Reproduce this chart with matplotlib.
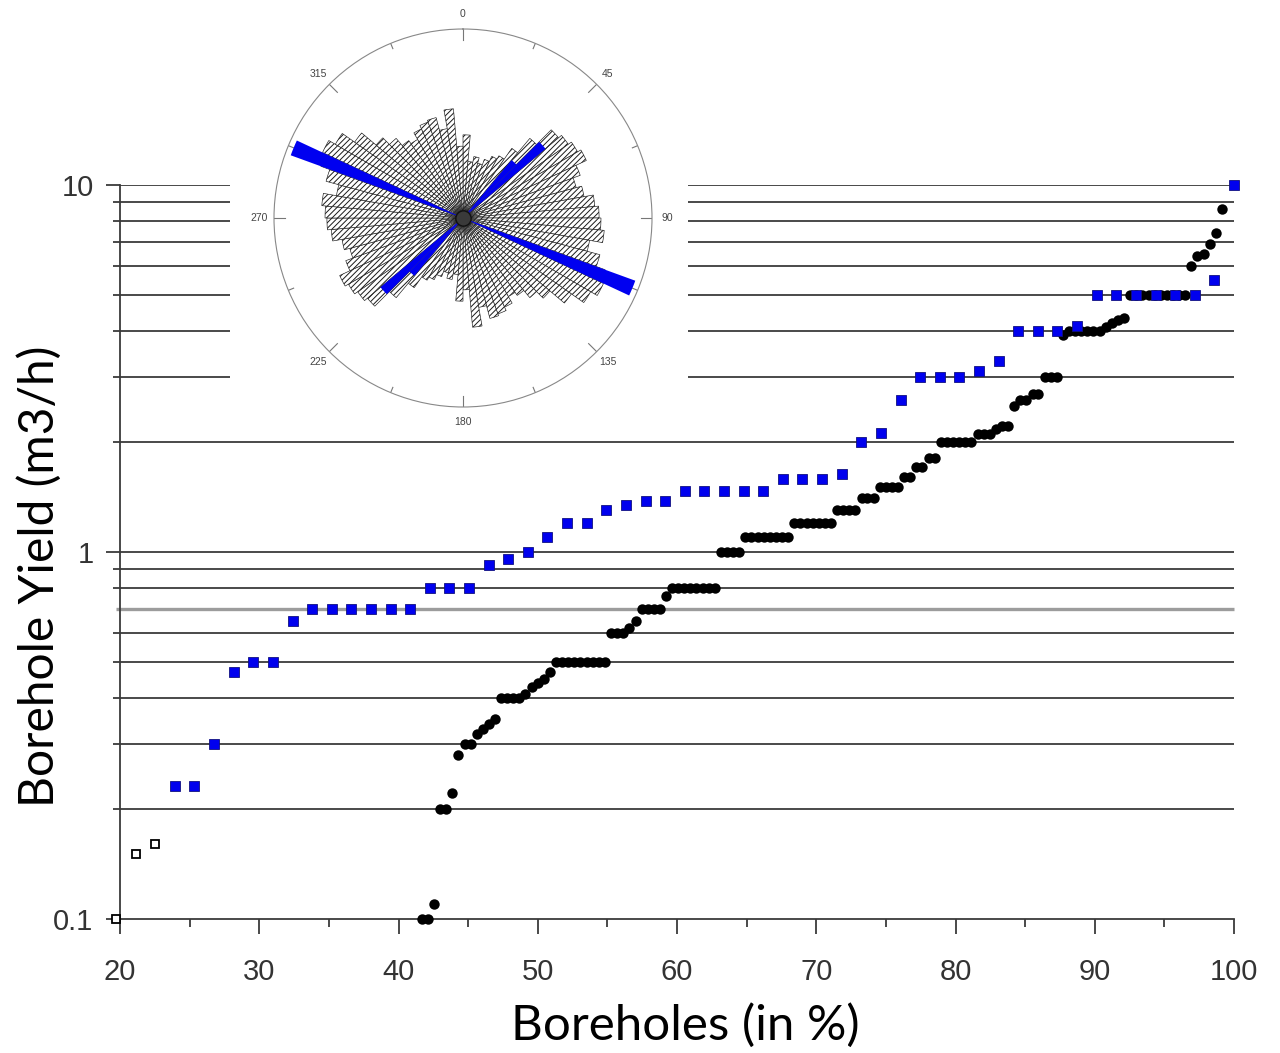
import numpy as np
import matplotlib
matplotlib.use('Agg')
import matplotlib.pyplot as plt
from matplotlib import ticker

# ---- data ----
# black circles: borehole percentile vs yield
black_x = [41.67, 42.11, 42.54, 42.98, 43.42, 43.86, 44.30, 44.74, 45.18, 45.61,
           46.05, 46.49, 46.93, 47.37, 47.81, 48.25, 48.68, 49.12, 49.56, 50.00,
           50.44, 50.88, 51.32, 51.75, 52.19, 52.63, 53.07, 53.51, 53.95, 54.39,
           54.82, 55.26, 55.70, 56.14, 56.58, 57.02, 57.46, 57.89, 58.33, 58.77,
           59.21, 59.65, 60.09, 60.53, 60.96, 61.40, 61.84, 62.28, 62.72, 63.16,
           63.60, 64.04, 64.47, 64.91, 65.35, 65.79, 66.23, 66.67, 67.11, 67.54,
           67.98, 68.42, 68.86, 69.30, 69.74, 70.18, 70.61, 71.05, 71.49, 71.93,
           72.37, 72.81, 73.25, 73.68, 74.12, 74.56, 75.00, 75.44, 75.88, 76.32,
           76.75, 77.19, 77.63, 78.07, 78.51, 78.95, 79.39, 79.82, 80.26, 80.70,
           81.14, 81.58, 82.02, 82.46, 82.89, 83.33, 83.77, 84.21, 84.65, 85.09,
           85.53, 85.96, 86.40, 86.84, 87.28, 87.72, 88.16, 88.60, 89.04, 89.47,
           89.91, 90.35, 90.79, 91.23, 91.67, 92.11, 92.54, 92.98, 93.42, 93.86,
           94.30, 94.74, 95.18, 95.61, 96.05, 96.49, 96.93, 97.37, 97.81, 98.25,
           98.68, 99.12]
black_y = [0.10, 0.10, 0.11, 0.20, 0.20, 0.22, 0.28, 0.30, 0.30, 0.32,
           0.33, 0.34, 0.35, 0.40, 0.40, 0.40, 0.40, 0.41, 0.43, 0.44,
           0.45, 0.47, 0.50, 0.50, 0.50, 0.50, 0.50, 0.50, 0.50, 0.50,
           0.50, 0.60, 0.60, 0.60, 0.62, 0.65, 0.70, 0.70, 0.70, 0.70,
           0.76, 0.80, 0.80, 0.80, 0.80, 0.80, 0.80, 0.80, 0.80, 1.00,
           1.00, 1.00, 1.00, 1.10, 1.10, 1.10, 1.10, 1.10, 1.10, 1.10,
           1.10, 1.20, 1.20, 1.20, 1.20, 1.20, 1.20, 1.20, 1.30, 1.30,
           1.30, 1.30, 1.40, 1.40, 1.40, 1.50, 1.50, 1.50, 1.50, 1.60,
           1.60, 1.70, 1.70, 1.80, 1.80, 2.00, 2.00, 2.00, 2.00, 2.00,
           2.00, 2.10, 2.10, 2.10, 2.16, 2.20, 2.20, 2.50, 2.60, 2.60,
           2.70, 2.70, 3.00, 3.00, 3.00, 3.90, 4.00, 4.00, 4.00, 4.00,
           4.00, 4.00, 4.10, 4.20, 4.30, 4.35, 5.00, 5.00, 5.00, 5.00,
           5.00, 5.00, 5.00, 5.00, 5.00, 5.00, 6.00, 6.40, 6.50, 6.90,
           7.40, 8.60]

# blue squares
blue_x = [23.94, 25.35, 26.76, 28.17, 29.58, 30.99, 32.39, 33.80, 35.21, 36.62,
          38.03, 39.44, 40.85, 42.25, 43.66, 45.07, 46.48, 47.89, 49.30, 50.70,
          52.11, 53.52, 54.93, 56.34, 57.75, 59.15, 60.56, 61.97, 63.38, 64.79,
          66.20, 67.61, 69.01, 70.42, 71.83, 73.24, 74.65, 76.06, 77.46, 78.87,
          80.28, 81.69, 83.10, 84.51, 85.92, 87.32, 88.73, 90.14, 91.55, 92.96,
          94.37, 95.77, 97.18, 98.59, 100.00]
blue_y = [0.23, 0.23, 0.30, 0.47, 0.50, 0.50, 0.65, 0.70, 0.70, 0.70,
          0.70, 0.70, 0.70, 0.80, 0.80, 0.80, 0.92, 0.96, 1.00, 1.10,
          1.20, 1.20, 1.30, 1.34, 1.38, 1.38, 1.47, 1.47, 1.47, 1.47,
          1.47, 1.58, 1.58, 1.58, 1.63, 2.00, 2.11, 2.60, 3.00, 3.00,
          3.00, 3.11, 3.32, 4.00, 4.00, 4.00, 4.13, 5.00, 5.00, 5.00,
          5.00, 5.00, 5.00, 5.50, 10.00]

# open squares
open_x = [19.72, 21.13, 22.54]
open_y = [0.10, 0.15, 0.16]

# horizontal reference lines
full_lines = [0.2, 0.3, 0.4, 0.5, 0.6, 0.8, 0.9, 1, 2]
cut_lines = [3, 4, 5, 6, 7, 8, 9, 10]
grey_line = 0.7

# rose diagram: 5 degree bins on 0-180 (mirrored), length as fraction of radius
rose_deg = [2.5, 7.5, 12.5, 17.5, 22.5, 27.5, 32.5, 37.5, 42.5, 47.5,
            52.5, 57.5, 62.5, 67.5, 72.5, 77.5, 82.5, 87.5, 92.5, 97.5,
            102.5, 107.5, 112.5, 117.5, 122.5, 127.5, 132.5, 137.5, 142.5, 147.5,
            152.5, 157.5, 162.5, 167.5, 172.5, 177.5]
rose_len = [0.44, 0.30, 0.33, 0.30, 0.33, 0.36, 0.38, 0.45, 0.55, 0.66,
            0.68, 0.70, 0.72, 0.66, 0.62, 0.65, 0.70, 0.72, 0.73, 0.75,
            0.68, 0.75, 0.80, 0.82, 0.78, 0.70, 0.60, 0.55, 0.50, 0.48,
            0.52, 0.54, 0.55, 0.48, 0.58, 0.38]
rose_blue_deg = [42.5, 47.5, 112.5]
rose_blue_len = [0.40, 0.57, 0.97]
rose_labels = ['0', '45', '90', '135', '180', '225', '270', '315']

line_c = '#3a3a3a'
text_c = '#333333'
W, H = 1280, 1053

plt.rcParams['hatch.linewidth'] = 0.7

fig = plt.figure(figsize=(12.8, 10.53), dpi=100)
ax = fig.add_axes([120 / W, 1 - 919 / H, (1234 - 120) / W, (919 - 185) / H])

ax.set_yscale('log')
ax.set_xlim(20, 100)
ax.set_ylim(0.1, 10)

ax.hlines(full_lines, 20, 100, colors=line_c, lw=1.3, zorder=1)
ax.hlines(cut_lines, 20, 27.9, colors=line_c, lw=1.3, zorder=1)
ax.hlines(cut_lines, 60.8, 100, colors=line_c, lw=1.3, zorder=1)
ax.hlines(grey_line, 19.7, 100, colors='#9c9c9c', lw=2.4, zorder=1, clip_on=False)

ax.plot(black_x, black_y, 'o', color='black', ms=7.5, mew=0, zorder=3, clip_on=False)
ax.plot(blue_x, blue_y, 's', color='#0000ee', mec='#101080', mew=0.6, ms=7.6,
        zorder=4, clip_on=False)
ax.plot(open_x, open_y, 's', mfc='white', mec='black', mew=1.3, ms=6.3,
        zorder=4, clip_on=False)

for s in ['top', 'right']:
    ax.spines[s].set_visible(False)
for s in ['left', 'bottom']:
    ax.spines[s].set_color(line_c)
    ax.spines[s].set_linewidth(1.3)

ax.yaxis.set_major_locator(ticker.FixedLocator([0.1, 1, 10]))
ax.yaxis.set_major_formatter(ticker.FixedFormatter(['0.1', '1', '10']))
ax.yaxis.set_minor_locator(ticker.FixedLocator(full_lines[:5] + full_lines[5:7] + full_lines[8:] + cut_lines[:-1]))
ax.yaxis.set_minor_formatter(ticker.NullFormatter())
ax.xaxis.set_major_locator(ticker.MultipleLocator(10))
ax.xaxis.set_minor_locator(ticker.MultipleLocator(5))

ax.tick_params(axis='y', which='major', direction='out', length=10, width=1.3,
               color=line_c, labelsize=21, labelcolor=text_c, pad=9)
ax.tick_params(axis='y', which='minor', direction='out', length=5, width=1.3, color=line_c)
ax.tick_params(axis='x', which='major', direction='out', length=11, width=1.3,
               color=line_c, labelsize=21, labelcolor=text_c, pad=17)
ax.tick_params(axis='x', which='minor', direction='out', length=6, width=1.3, color=line_c)
for lab in ax.get_xticklabels() + ax.get_yticklabels():
    lab.set_family('Liberation Sans')

fig.text(40 / W, 1 - 576 / H, 'Borehole Yield (m3/h)', rotation=90, ha='center',
         va='center', fontsize=34.5, family='Lato', color='black')
fig.text(685 / W, 1 - 1025 / H, 'Boreholes (in %)', ha='center', va='center',
         fontsize=35.5, family='Lato', color='black')

# ---- rose diagram inset ----
cx, cy, rad = 463, 218, 189
rax = fig.add_axes([(cx - rad) / W, 1 - (cy + rad) / H, 2 * rad / W, 2 * rad / H],
                   projection='polar')
rax.set_theta_zero_location('N')
rax.set_theta_direction(-1)
rax.set_ylim(0, 1)
rax.set_facecolor('none')
rax.grid(False)
rax.set_yticks([])

th = np.deg2rad(np.concatenate([rose_deg, np.array(rose_deg) + 180]))
ln = np.concatenate([rose_len, rose_len])
rax.bar(th, ln, width=np.deg2rad(5), bottom=0, color='white', edgecolor='#1a1a1a',
        hatch='//////', linewidth=0.45, zorder=2)
thb = np.deg2rad(np.concatenate([rose_blue_deg, np.array(rose_blue_deg) + 180]))
lnb = np.concatenate([rose_blue_len, rose_blue_len])
rax.bar(thb, lnb, width=np.deg2rad(5), bottom=0, color='#0000f0', edgecolor='none', zorder=3)
rax.plot([0], [0], 'o', ms=11, color='#3a3a3a', mec='#111111', zorder=4)

for d in np.arange(0, 360, 22.5):
    r0 = 0.94 if d % 45 == 0 else 0.97
    rax.plot([np.deg2rad(d)] * 2, [r0, 1], color='#777777', lw=0.8, zorder=1)

rax.set_xticks(np.deg2rad(np.arange(0, 360, 45)))
rax.set_xticklabels(rose_labels)
rax.tick_params(axis='x', labelsize=7.5, labelcolor='#444444', pad=4, length=0)
for lab in rax.get_xticklabels():
    lab.set_family('Liberation Sans')
rax.spines['polar'].set_color('#888888')
rax.spines['polar'].set_linewidth(0.8)

fig.savefig('out.png', dpi=100)
